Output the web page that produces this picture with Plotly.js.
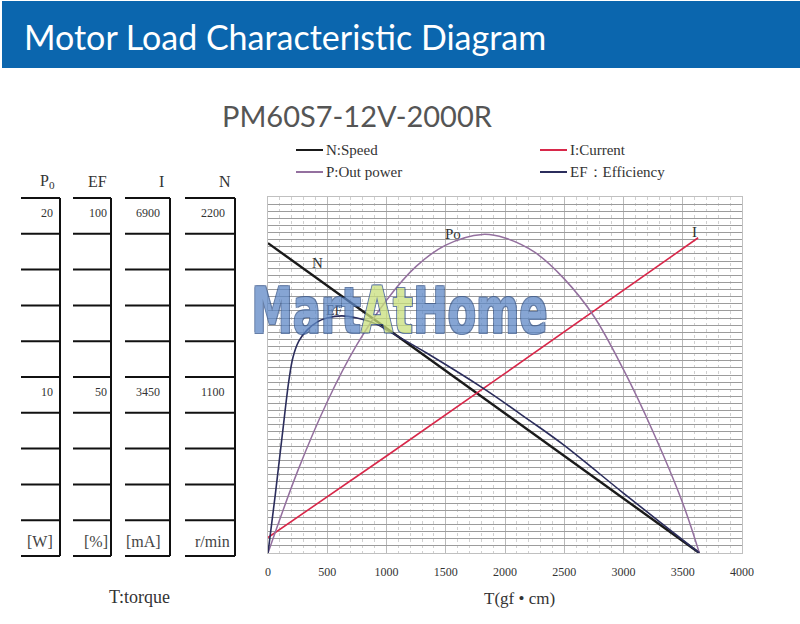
<!DOCTYPE html>
<html><head><meta charset="utf-8">
<script src="https://cdn.plot.ly/plotly-3.0.1.min.js"></script>
<style>html,body{margin:0;padding:0;background:#fff}</style>
</head><body><div id="chart" style="width:800px;height:624px"></div>
<script>
// ---------- data ----------
const torqueN = [0, 1000, 2000, 3000, 3640];
const speedN = [1915, 1390, 862, 336, 0];            // r/min
const torqueI = [0, 1000, 2000, 3000, 3630];
const currentI = [300, 1880, 3480, 5090, 6110];        // mA
const torqueP = [0, 250, 500, 750, 1000, 1250, 1500, 1810, 2000, 2250, 2500, 2750, 3000, 3250, 3500, 3640];
const powerP = [0, 4.6, 8.5, 11.7, 14.2, 16.1, 17.3, 17.9, 17.7, 16.9, 15.4, 13.3, 10.3, 6.8, 2.8, 0]; // W
const torqueEF = [0, 60, 120, 177, 211, 260, 329, 420, 498, 624, 751, 900, 1030, 1342, 1814, 2200, 2489, 2996, 3300, 3640];
const effEF = [0, 16, 33, 48.6, 55, 59.5, 62.6, 65, 66, 66.6, 66, 64.5, 62.1, 56.1, 46.3, 37.4, 30.5, 16.9, 8.9, 0]; // %
const xTicks = [0, 500, 1000, 1500, 2000, 2500, 3000, 3500, 4000];
const tableHeaders = ['P<sub>0</sub>', 'EF', 'I', 'N'];
const tableTopLabels = ['20', '100', '6900', '2200'];
const tableMidLabels = ['10', '50', '3450', '1100'];
const tableUnits = ['[W]', '[%]', '[mA]', 'r/min'];
const axisMaxN = 2200, axisMaxI = 6900, axisMaxP = 20, axisMaxEF = 100;
const legendNames = ['N:Speed', 'I:Current', 'P:Out power', 'EF：Efficiency'];

// ---------- layout helpers (pixel -> paper) ----------
const PL = 268, PR = 742, PT = 197, PB = 553;
const px = x => (x - PL) / (PR - PL);
const py = y => (PB - y) / (PB - PT);
const serif = 'Liberation Serif, DejaVu Serif, serif';
const cN = '#1a1a1a', cI = '#d8284a', cP = '#94709f', cEF = '#2b2d5c';

const traces = [
  {x: torqueN, y: speedN, yaxis: 'y', mode: 'lines', line: {color: cN, width: 2.4}, name: 'N', showlegend: false, hoverinfo: 'skip'},
  {x: torqueI, y: currentI, yaxis: 'y2', mode: 'lines', line: {color: cI, width: 1.6}, name: 'I', showlegend: false, hoverinfo: 'skip'},
  {x: torqueP, y: powerP, yaxis: 'y3', mode: 'lines', line: {color: cP, width: 1.5, shape: 'spline'}, name: 'P', showlegend: false, hoverinfo: 'skip'},
  {x: torqueEF, y: effEF, yaxis: 'y4', mode: 'lines', line: {color: cEF, width: 1.6, shape: 'spline'}, name: 'EF', showlegend: false, hoverinfo: 'skip'}
];

const shapes = [];
const annotations = [];

// header bar
shapes.push({type: 'rect', xref: 'paper', yref: 'paper', x0: px(2), x1: px(800), y0: py(68), y1: py(1),
  fillcolor: '#0b66ae', line: {width: 0}, layer: 'below'});

// table
const colLeft = [21, 73, 125, 185], colRight = [60, 111, 170, 235];
const headRight = [57, 109, 166, 233];
const labelRight = [55, 109, 162, 227];
const tTop = 198, tBot = 556;
for (let c = 0; c < 4; c++) {
  shapes.push({type: 'line', xref: 'paper', yref: 'paper', x0: px(colRight[c]), x1: px(colRight[c]),
    y0: py(tBot), y1: py(tTop), line: {color: '#111', width: 2}});
  for (let r = 0; r <= 10; r++) {
    const yy = tBot - r * (tBot - tTop) / 10;
    shapes.push({type: 'line', xref: 'paper', yref: 'paper', x0: px(colLeft[c]), x1: px(colRight[c]),
      y0: py(yy), y1: py(yy), line: {color: '#111', width: 2}});
  }
  annotations.push({xref: 'paper', yref: 'paper', x: px(headRight[c]), y: py(182), xanchor: 'right', yanchor: 'middle',
    text: tableHeaders[c], showarrow: false, font: {family: serif, size: 16, color: '#333'}});
  annotations.push({xref: 'paper', yref: 'paper', x: px(labelRight[c]), y: py(213), xanchor: 'right', yanchor: 'middle',
    text: tableTopLabels[c], showarrow: false, font: {family: serif, size: 12, color: '#333'}});
  annotations.push({xref: 'paper', yref: 'paper', x: px(labelRight[c]), y: py(392), xanchor: 'right', yanchor: 'middle',
    text: tableMidLabels[c], showarrow: false, font: {family: serif, size: 12, color: '#333'}});
  annotations.push({xref: 'paper', yref: 'paper', x: px(c === 3 ? 232 : labelRight[c] + (c === 0 ? 0 : 1)), y: py(541), xanchor: 'right', yanchor: 'middle',
    text: tableUnits[c], showarrow: false, font: {family: serif, size: 16, color: '#444'}});
}
annotations.push({xref: 'paper', yref: 'paper', x: px(139), y: py(597), xanchor: 'center', yanchor: 'middle',
  text: 'T:torque', showarrow: false, font: {family: serif, size: 18, color: '#333'}});

// legend
const legPos = [[296, 150, cN], [540, 150, cI], [296, 172, cP], [540, 172, cEF]];
legPos.forEach((p, i) => {
  shapes.push({type: 'line', xref: 'paper', yref: 'paper', x0: px(p[0]), x1: px(p[0] + 27), y0: py(p[1]), y1: py(p[1]),
    line: {color: p[2], width: 2}});
  annotations.push({xref: 'paper', yref: 'paper', x: px(p[0] + 28), y: py(p[1]), xanchor: 'left', yanchor: 'middle',
    text: legendNames[i], showarrow: false, font: {family: serif, size: 15, color: '#333'}});
});

// subtitle
annotations.push({xref: 'paper', yref: 'paper', x: px(357), y: py(115), xanchor: 'center', yanchor: 'middle',
  text: 'PM60S7-12V-2000R', showarrow: false, font: {family: 'Lato, Open Sans, sans-serif', size: 29, color: '#555'}});

// curve labels
annotations.push({x: 420, y: 1790, xref: 'x', yref: 'y', text: 'N', showarrow: false, font: {family: serif, size: 15, color: '#333'}});
annotations.push({x: 1560, y: 17.9, xref: 'x', yref: 'y3', text: 'Po', showarrow: false, font: {family: serif, size: 15, color: '#333'}});
annotations.push({x: 3600, y: 6220, xref: 'x', yref: 'y2', text: 'I', showarrow: false, font: {family: serif, size: 15, color: '#333'}});
annotations.push({x: 560, y: 68, xref: 'x', yref: 'y4', text: 'EF', showarrow: false, font: {family: serif, size: 14, color: '#333'}});
annotations.push({xref: 'paper', yref: 'paper', x: px(519), y: py(598), xanchor: 'center', yanchor: 'middle',
  text: 'T(gf • cm)', showarrow: false, font: {family: serif, size: 17, color: '#333'}});

// watermark (last annotation)
annotations.push({xref: 'paper', yref: 'paper', x: px(399), y: py(311), xanchor: 'center', yanchor: 'middle',
  text: 'Mart<span style="color:#c9df7c">At</span>Home', showarrow: false, opacity: 0.75,
  font: {family: 'DejaVu Sans Condensed, sans-serif', size: 64, weight: 800, color: '#5e88c6',
    shadow: '1px 1px 0 #34548a, -1px -1px 0 #34548a, 1px -1px 0 #34548a, -1px 1px 0 #34548a'}});
const watermarkIndex = annotations.length - 1;

const layout = {
  width: 800, height: 624,
  margin: {l: PL, r: 800 - PR, t: PT, b: 624 - PB, pad: 0},
  paper_bgcolor: '#fff', plot_bgcolor: '#fff',
  showlegend: false,
  title: {text: 'Motor Load Characteristic Diagram', xref: 'container', yref: 'container', x: 24 / 800, xanchor: 'left',
    y: 1 - 38 / 624, yanchor: 'middle', font: {family: 'Lato, Open Sans, sans-serif', size: 34, color: '#fff'}},
  xaxis: {range: [0, 4000], tickvals: xTicks, showgrid: true, gridcolor: '#bababa', gridwidth: 1,
    minor: {dtick: 100, showgrid: true, gridcolor: '#d0d0d0', griddash: 'dot', gridwidth: 1},
    zeroline: false, showline: true, linecolor: '#c0c0c0', mirror: true, ticks: '', ticklabelstandoff: 8,
    tickfont: {family: serif, size: 12, color: '#333'}},
  yaxis: {range: [0, axisMaxN], tick0: 0, dtick: axisMaxN / 50, showticklabels: false, gridcolor: '#9c9c9c', gridwidth: 1,
    zeroline: false, showline: true, linecolor: '#c0c0c0', mirror: true, ticks: ''},
  yaxis2: {range: [0, axisMaxI], overlaying: 'y', visible: false},
  yaxis3: {range: [0, axisMaxP], overlaying: 'y', visible: false},
  yaxis4: {range: [0, axisMaxEF], overlaying: 'y', visible: false},
  shapes: shapes,
  annotations: annotations
};

Plotly.newPlot('chart', traces, layout, {displayModeBar: false, staticPlot: true}).then(gd => {
  // narrow the watermark lettering to match the condensed poster face
  const t = gd.querySelector('.annotation[data-index="' + watermarkIndex + '"] text');
  if (t) {
    t.style.transformBox = 'fill-box';
    t.style.transformOrigin = 'center';
    t.style.transform = 'scaleX(0.72)';
  }
});
</script></body></html>
